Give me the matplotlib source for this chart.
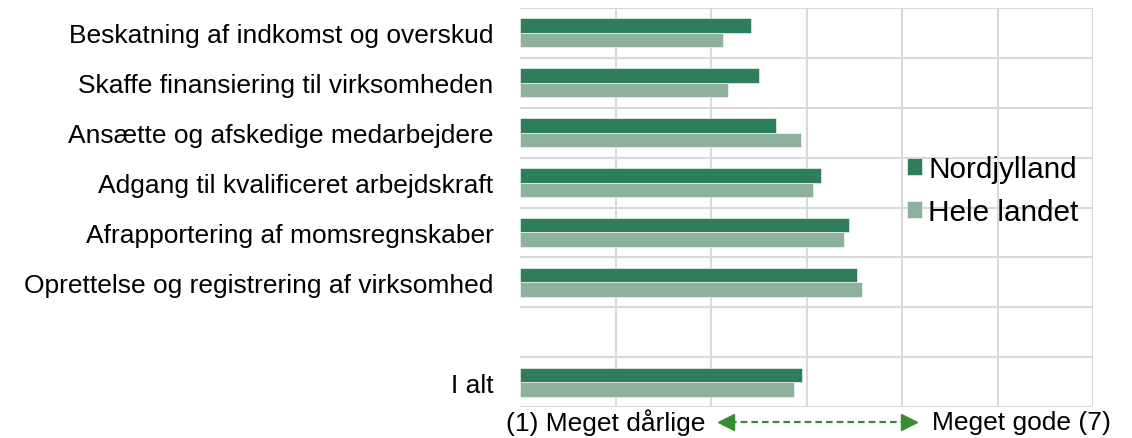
import matplotlib
matplotlib.use("Agg")
import matplotlib.pyplot as plt
from matplotlib.lines import Line2D
import numpy as np

plt.rcParams['font.family'] = ['Liberation Sans', 'DejaVu Sans']

categories = [
    "Beskatning af indkomst og overskud",
    "Skaffe finansiering til virksomheden",
    "Ansætte og afskedige medarbejdere",
    "Adgang til kvalificeret arbejdskraft",
    "Afrapportering af momsregnskaber",
    "Oprettelse og registrering af virksomhed",
    "",
    "I alt",
]
nordjylland = [3.42, 3.50, 3.68, 4.15, 4.44, 4.53, np.nan, 3.95]
hele_landet = [3.13, 3.18, 3.94, 4.07, 4.39, 4.58, np.nan, 3.87]

c_nord = "#2e7d5b"
c_hele = "#8db19c"
c_grid = "#d9d9d9"

fig = plt.figure(figsize=(11.32, 4.39), dpi=100)
ax = fig.add_axes([520 / 1132, 1 - 408 / 439, (1093 - 520) / 1132, (408 - 9) / 439])

y = np.arange(len(categories))
h = 0.29
base = 1
ax.barh(y - h / 2, np.array(nordjylland) - base, left=base, height=h,
        color=c_nord, edgecolor="white", linewidth=0.4, label="Nordjylland", zorder=3)
ax.barh(y + h / 2, np.array(hele_landet) - base, left=base, height=h,
        color=c_hele, edgecolor="white", linewidth=0.4, label="Hele landet", zorder=3)

ax.set_xlim(1, 7)
ax.set_ylim(len(categories) - 0.5, -0.5)
ax.set_xticks(range(2, 8))
ax.set_xticklabels([])
ax.set_yticks(y)
ax.set_yticklabels(categories, fontsize=19)
ax.set_yticks(np.arange(-0.5, len(categories)), minor=True)
ax.tick_params(axis="both", which="both", length=0)
ax.tick_params(axis="y", pad=19)
ax.grid(axis="x", which="major", color=c_grid, linewidth=1.5, zorder=0)
ax.grid(axis="y", which="minor", color=c_grid, linewidth=1.5, zorder=0)
for s in ax.spines.values():
    s.set_visible(False)

leg = ax.legend(loc="upper left", bbox_to_anchor=(895 / 1132, 1 - 144 / 439),
                bbox_transform=fig.transFigure, frameon=False, fontsize=21.4,
                handlelength=0.5, handleheight=0.5, handletextpad=0.22,
                labelspacing=0.5, borderaxespad=0)

ty = 1 - 423 / 439
fig.text(506 / 1132, ty, "(1) Meget dårlige", fontsize=19, va="center", ha="left")
fig.text(932 / 1132, ty, "Meget gode (7)", fontsize=19, va="center", ha="left")
c_arrow = "#3a8c34"
fig.add_artist(Line2D([730 / 1132, 905 / 1132], [ty, ty], transform=fig.transFigure,
                      color=c_arrow, linewidth=1.6, dashes=(3, 1.8)))
fig.add_artist(Line2D([726 / 1132], [ty], transform=fig.transFigure, marker="<",
                      markersize=11, color=c_arrow, linestyle="none"))
fig.add_artist(Line2D([909 / 1132], [ty], transform=fig.transFigure, marker=">",
                      markersize=11, color=c_arrow, linestyle="none"))

fig.savefig("out.png", dpi=100)
